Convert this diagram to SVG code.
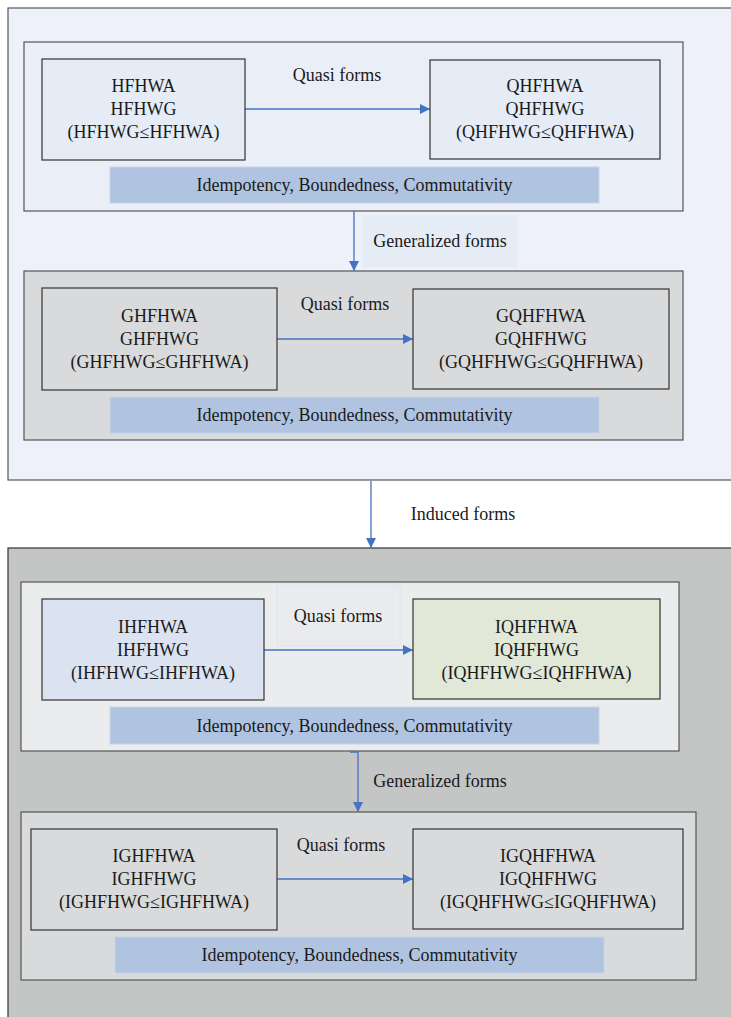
<svg xmlns="http://www.w3.org/2000/svg" width="731" height="1017" viewBox="0 0 731 1017">
<defs>
<marker id="ah" markerWidth="10" markerHeight="10" refX="10" refY="5" orient="auto" markerUnits="userSpaceOnUse">
<path d="M0,0 L10,5 L0,10 Z" fill="#4472c4"/>
</marker>
<style>
text{font-family:'Liberation Serif','DejaVu Serif',Tinos,'Times New Roman',serif;font-size:18px;fill:#1a1a1a;text-anchor:middle}
.box{stroke:#555;stroke-width:1.2}
.node{stroke:#333;stroke-width:1.2}
.bar{fill:#b0c4e2;stroke:#c5d3ea;stroke-width:1}
.con{stroke:#4472c4;stroke-width:1.3;fill:none;marker-end:url(#ah)}
</style>
</defs>
<rect x="0" y="0" width="731" height="1017" fill="#ffffff"/>
<g id="outer1"><rect class="box" x="8" y="8" width="730" height="472" fill="#eef1f9"/></g>
<g id="outer2"><rect x="8" y="548" width="730" height="475" fill="#c4c5c5" stroke="#333" stroke-width="1.2"/></g>

<g id="groupA"><rect class="box" x="24" y="42" width="659" height="169" fill="#e9eef7"/></g>
<g id="groupB"><rect class="box" x="24" y="271" width="659" height="169" fill="#d9dadb"/></g>
<g id="groupC"><rect class="box" x="21" y="582" width="658" height="169" fill="#ebeced"/></g>
<g id="groupD"><rect class="box" x="21" y="812" width="675" height="168" fill="#d9dadb"/></g>

<g id="labels-bg">
<rect x="362" y="215" width="156" height="52" fill="#e6ecf6"/>
<rect x="277" y="584" width="123" height="62" fill="#e9ebee" stroke="#e0e4ec" stroke-width="1"/>
</g>

<g id="connectors">
<line class="con" x1="245" y1="109" x2="430" y2="109"/>
<line class="con" x1="354" y1="211" x2="354" y2="271"/>
<line class="con" x1="277" y1="339" x2="413" y2="339"/>
<line class="con" x1="371" y1="481" x2="371" y2="548"/>
<line class="con" x1="264" y1="650" x2="413" y2="650"/>
<path class="con" d="M350,752 L358,752 L358,812"/>
<line class="con" x1="277" y1="879" x2="413" y2="879"/>
</g>

<g font-family="Liberation Serif, DejaVu Serif, serif">
<g id="n-hfhwa"><rect class="node" x="42" y="59" width="203" height="101" fill="#e5ecf6"/>
<text x="143.5" y="92">HFHWA</text><text x="143.5" y="115">HFHWG</text><text x="143.5" y="138">(HFHWG≤HFHWA)</text></g>
<g id="n-qhfhwa"><rect class="node" x="430" y="60" width="230" height="99" fill="#e5ecf6"/>
<text x="545" y="92">QHFHWA</text><text x="545" y="115">QHFHWG</text><text x="545" y="138">(QHFHWG≤QHFHWA)</text></g>
<g id="bar-a"><rect class="bar" x="110" y="167" width="489" height="36"/><text x="354.5" y="191">Idempotency, Boundedness, Commutativity</text></g>

<g id="n-ghfhwa"><rect class="node" x="42" y="288" width="235" height="102" fill="#d9dadb"/>
<text x="159.5" y="322">GHFHWA</text><text x="159.5" y="345">GHFHWG</text><text x="159.5" y="368">(GHFHWG≤GHFHWA)</text></g>
<g id="n-gqhfhwa"><rect class="node" x="413" y="289" width="256" height="100" fill="#d9dadb"/>
<text x="541" y="322">GQHFHWA</text><text x="541" y="345">GQHFHWG</text><text x="541" y="368">(GQHFHWG≤GQHFHWA)</text></g>
<g id="bar-b"><rect class="bar" x="110" y="397" width="489" height="36"/><text x="354.5" y="421">Idempotency, Boundedness, Commutativity</text></g>

<g id="n-ihfhwa"><rect class="node" x="42" y="599" width="222" height="101" fill="#dce3f0"/>
<text x="153" y="633">IHFHWA</text><text x="153" y="656">IHFHWG</text><text x="153" y="679">(IHFHWG≤IHFHWA)</text></g>
<g id="n-iqhfhwa"><rect class="node" x="413" y="599" width="247" height="100" fill="#e1e8d8"/>
<text x="536.5" y="633">IQHFHWA</text><text x="536.5" y="656">IQHFHWG</text><text x="536.5" y="679">(IQHFHWG≤IQHFHWA)</text></g>
<g id="bar-c"><rect class="bar" x="110" y="707" width="489" height="37"/><text x="354.5" y="732">Idempotency, Boundedness, Commutativity</text></g>

<g id="n-ighfhwa"><rect class="node" x="31" y="829" width="246" height="101" fill="#d9dadb"/>
<text x="154" y="862">IGHFHWA</text><text x="154" y="885">IGHFHWG</text><text x="154" y="908">(IGHFHWG≤IGHFHWA)</text></g>
<g id="n-igqhfhwa"><rect class="node" x="413" y="829" width="270" height="100" fill="#d9dadb"/>
<text x="548" y="862">IGQHFHWA</text><text x="548" y="885">IGQHFHWG</text><text x="548" y="908">(IGQHFHWG≤IGQHFHWA)</text></g>
<g id="bar-d"><rect class="bar" x="115" y="937" width="489" height="36"/><text x="359.5" y="961">Idempotency, Boundedness, Commutativity</text></g>

<g id="edge-labels">
<text x="337" y="81">Quasi forms</text>
<text x="440" y="247">Generalized forms</text>
<text x="345" y="310">Quasi forms</text>
<text x="463" y="520">Induced forms</text>
<text x="338" y="622">Quasi forms</text>
<text x="440" y="787">Generalized forms</text>
<text x="341" y="851">Quasi forms</text>
</g>
</g>
</svg>
